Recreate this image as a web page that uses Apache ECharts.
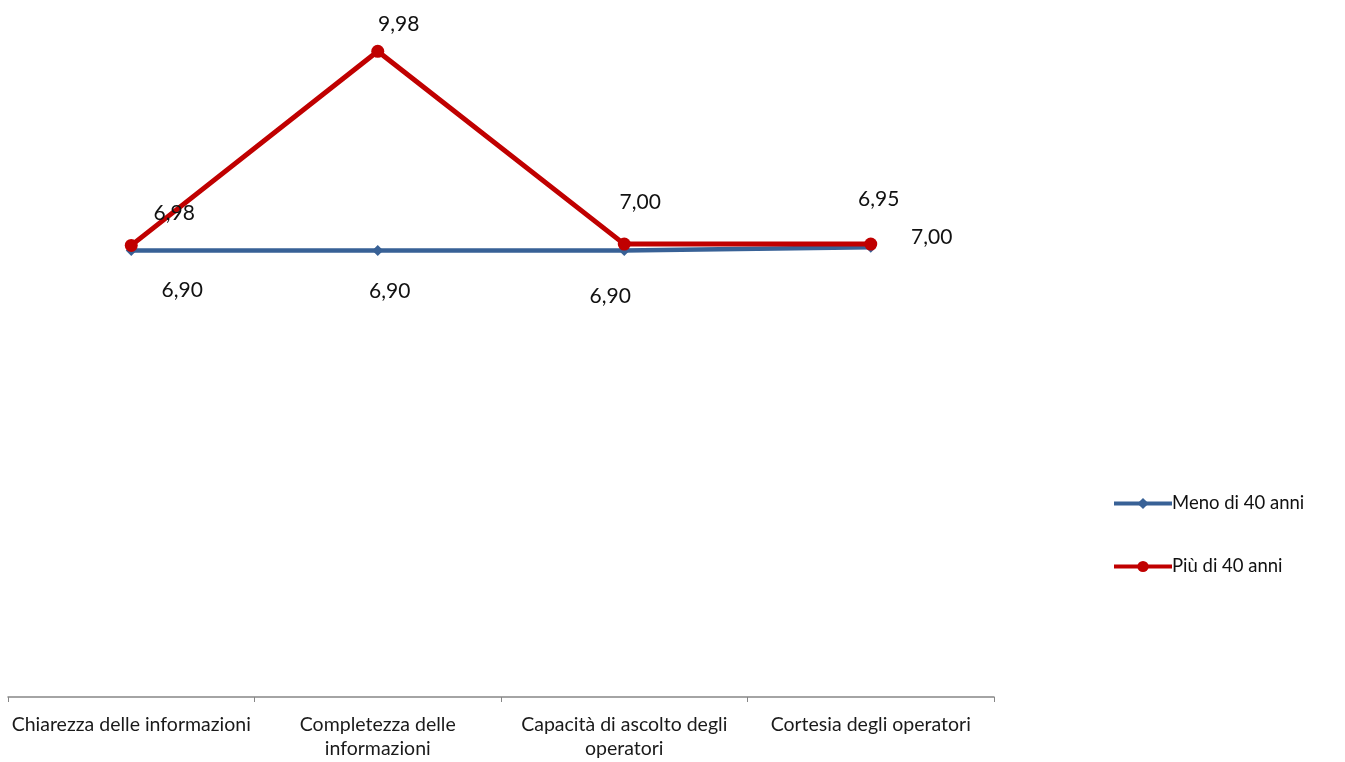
<!DOCTYPE html>
<html><head><meta charset="utf-8">
<script src="https://cdn.jsdelivr.net/npm/echarts@6/dist/echarts.min.js"></script>
<style>html,body{margin:0;padding:0;background:#fff}#c{width:1345px;height:762px}</style>
</head><body><div id="c"></div>
<script>
var categories = ['Chiarezza delle informazioni', 'Completezza delle\ninformazioni', 'Capacità di ascolto degli\noperatori', 'Cortesia degli operatori'];
var seriesNames = ['Meno di 40 anni', 'Più di 40 anni'];
var menoValues = [6.90, 6.90, 6.90, 6.95];
var piuValues = [6.98, 9.98, 7.00, 7.00];
var menoLabelOffsets = [[51, 40], [12, 41], [-14, 46], [8, -48]];
var piuLabelOffsets = [[43, -32], [21, -27], [16, -42], [61, -7]];

function fmt(v){ return v.toFixed(2).replace('.', ','); }
function mk(vals, offs){
  return vals.map(function(v,i){
    return {value: v, label: {show: true, position: 'inside', offset: offs[i], formatter: fmt(v)}};
  });
}
var FONT = 'Lato';
var chart = echarts.init(document.getElementById('c'));
chart.setOption({
  animation: false,
  textStyle: {fontFamily: FONT},
  grid: {left: 8, right: 351, top: 50, bottom: 65, containLabel: false},
  xAxis: {
    type: 'category', data: categories, boundaryGap: true,
    axisLine: {lineStyle: {color: '#868686', width: 1.5}},
    axisTick: {show: true, length: 5, lineStyle: {color: '#868686'}},
    axisLabel: {color: '#1a1a1a', fontSize: 19.5, fontFamily: FONT, margin: 16, lineHeight: 24, interval: 0}
  },
  yAxis: {type: 'value', min: 0, max: 10, show: false, splitLine: {show: false}},
  legend: {
    orient: 'vertical', left: 1112, top: 494, padding: 0, itemGap: 44, itemWidth: 58, itemHeight: 14,
    textStyle: {fontSize: 18.5, color: '#111', fontFamily: FONT, padding: [0,0,0,-5]},
    data: [
      {name: seriesNames[0], lineStyle: {width: 4}},
      {name: seriesNames[1], lineStyle: {width: 4}}
    ]
  },
  series: [
    {
      name: seriesNames[0], type: 'line', data: mk(menoValues, menoLabelOffsets),
      symbol: 'diamond', symbolSize: 11,
      itemStyle: {color: '#386196'},
      lineStyle: {color: '#386196', width: 4.5},
      label: {color: '#111', fontSize: 21, fontFamily: FONT},
      z: 2
    },
    {
      name: seriesNames[1], type: 'line', data: mk(piuValues, piuLabelOffsets),
      symbol: 'circle', symbolSize: 13,
      itemStyle: {color: '#C00000'},
      lineStyle: {color: '#C00000', width: 5},
      label: {color: '#111', fontSize: 21, fontFamily: FONT},
      z: 3
    }
  ]
});
</script></body></html>
